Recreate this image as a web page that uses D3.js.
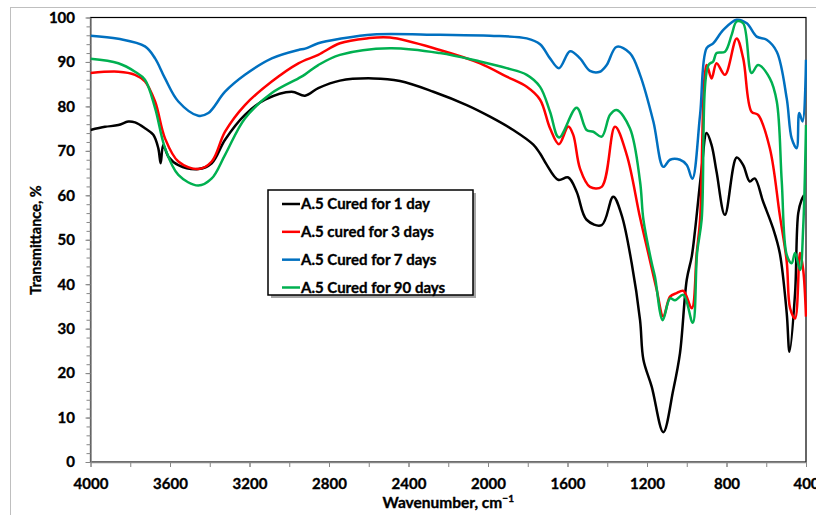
<!DOCTYPE html>
<html>
<head>
<meta charset="utf-8">
<script src="https://cdn.jsdelivr.net/npm/d3@7"></script>
<style>
  body { margin: 0; background: #fff; }
  svg text { font-family: Lato, "Open Sans", sans-serif; font-weight: bold; stroke: #000; stroke-width: 0.35px; }
</style>
</head>
<body>
<div class="container__chart"></div>
<script>
//data: [wavenumber, transmittance]
const day1 = [[4000,74.7],[3927,75.4],[3860,75.8],[3810,76.6],[3776,76.4],[3726,75.1],[3684,73.6],[3659,70.6],[3647,67.2],[3634,71.3],[3608,68.7],[3558,66.8],[3458,65.9],[3390,67.2],[3323,72.5],[3223,78.1],[3122,81.5],[2988,83.3],[2921,82.4],[2854,84.1],[2745,85.8],[2577,86.3],[2443,85.7],[2275,83.3],[2107,80.3],[1990,77.7],[1873,74.7],[1772,71.4],[1738,69.4],[1705,66.9],[1647,63.5],[1596,64.0],[1554,60.8],[1504,54.5],[1428,53.3],[1370,59.7],[1328,55.6],[1277,44.7],[1235,31.9],[1218,23.0],[1176,16.9],[1118,6.7],[1068,16.2],[1034,24.5],[1000,41.0],[975,46.2],[958,52.2],[925,66.0],[900,74.0],[875,71.3],[850,65.3],[808,55.6],[749,68.5],[716,66.8],[683,63.1],[658,63.8],[616,58.6],[566,52.6],[532,47.0],[497,33.5],[483,24.8],[455,38.0],[439,56.0],[422,59.0],[410,60.0]];
const day3 = [[4000,87.5],[3860,87.8],[3776,87.1],[3726,85.6],[3675,81.1],[3625,72.8],[3558,67.6],[3458,65.9],[3390,67.6],[3323,74.3],[3223,80.3],[3088,85.6],[2954,89.7],[2854,91.6],[2745,94.2],[2610,95.3],[2493,95.5],[2242,92.7],[2040,89.7],[1906,86.7],[1805,84.4],[1738,81.5],[1688,75.1],[1643,71.5],[1596,75.5],[1571,73.6],[1537,66.0],[1487,61.9],[1428,61.9],[1361,75.4],[1302,69.1],[1235,55.0],[1185,45.3],[1151,38.7],[1118,32.7],[1084,37.2],[1051,38.0],[1017,38.5],[975,34.6],[950,47.0],[933,54.5],[900,89.3],[875,86.3],[850,89.7],[808,87.1],[749,95.3],[716,90.8],[674,78.8],[641,78.1],[582,70.6],[532,55.6],[497,45.1],[480,34.6],[455,32.3],[430,47.0],[414,43.2],[400,32.7]];
const day7 = [[4000,95.9],[3860,95.2],[3726,93.5],[3675,90.8],[3625,86.3],[3558,81.1],[3458,77.9],[3407,78.5],[3323,83.3],[3223,87.1],[3088,90.8],[2954,92.7],[2920,93.0],[2854,94.2],[2745,95.2],[2577,96.2],[2242,96.1],[1990,95.9],[1805,95.3],[1738,94.0],[1688,90.8],[1643,88.6],[1587,92.4],[1537,90.8],[1487,88.0],[1437,87.8],[1403,89.3],[1353,93.4],[1286,92.0],[1235,87.1],[1168,76.6],[1118,66.4],[1084,68.0],[1034,68.0],[1000,66.8],[972,63.7],[933,78.1],[900,93.1],[867,94.2],[816,97.2],[749,99.5],[698,98.7],[648,95.7],[598,95.0],[547,92.3],[497,81.8],[472,72.8],[447,70.6],[434,78.5],[417,76.6],[400,90.5]];
const day90 = [[4000,90.7],[3860,89.7],[3776,87.8],[3726,86.0],[3675,79.6],[3625,70.6],[3558,64.6],[3458,62.2],[3390,63.8],[3323,69.1],[3223,77.3],[3088,83.0],[2954,86.3],[2920,87.2],[2854,89.3],[2745,91.6],[2493,93.1],[2242,92.0],[2040,90.1],[1906,88.6],[1805,87.1],[1738,84.4],[1688,78.8],[1643,73.0],[1554,79.7],[1504,74.7],[1470,74.3],[1428,73.2],[1386,78.1],[1353,79.2],[1286,75.1],[1235,63.1],[1218,54.5],[1176,44.7],[1160,41.7],[1121,31.9],[1084,36.8],[1059,36.4],[1017,37.6],[970,31.3],[948,47.0],[925,54.5],[891,89.3],[867,90.1],[850,92.0],[808,92.3],[774,96.1],[749,99.1],[716,98.7],[674,87.5],[641,89.3],[582,86.3],[547,81.1],[522,63.1],[497,46.6],[472,44.7],[455,47.0],[430,43.2],[414,52.9],[400,75.8]];

const seriesNames = ["A.5 Cured for 1 day", "A.5 cured for 3 days", "A.5 Cured for 7 days", "A.5 Cured for 90 days"];
const seriesColors = ["#000000", "#ff0000", "#0070c0", "#00b050"];
const xTicks = [4000, 3600, 3200, 2800, 2400, 2000, 1600, 1200, 800, 400];
const yTicks = [0, 10, 20, 30, 40, 50, 60, 70, 80, 90, 100];

const CHART_WIDTH = 816;
const CHART_HEIGHT = 515;
const LEFT = 90.5, RIGHT = 806, TOP = 17.5, BOTTOM = 462;

const xScale = d3.scaleLinear().domain([4000, 400]).range([LEFT, RIGHT]);
const yScale = d3.scaleLinear().domain([0, 100]).range([BOTTOM, TOP]);

const svg = d3.select(".container__chart")
    .append("svg")
    .attr("width", CHART_WIDTH)
    .attr("height", CHART_HEIGHT);

//outer chart border
svg.append("rect")
    .attr("x", 10.5).attr("y", 7.5)
    .attr("width", 1000).attr("height", 1000)
    .attr("fill", "#fff")
    .attr("stroke", "#bfbfbf");

//plot area
svg.append("rect")
    .attr("x", LEFT).attr("y", TOP)
    .attr("width", RIGHT - LEFT).attr("height", BOTTOM - TOP)
    .attr("fill", "#fff")
    .attr("stroke", "#000")
    .attr("stroke-width", 1.2);

svg.append("clipPath").attr("id", "plotClip")
    .append("rect")
    .attr("x", LEFT).attr("y", TOP - 2)
    .attr("width", RIGHT - LEFT + 1).attr("height", BOTTOM - TOP + 2);

//minor ticks
const minorY = d3.range(0, 101, 2);
const minorX = d3.range(4000, 399, -200);

svg.append("g")
    .attr("transform", `translate(${LEFT},0)`)
    .call(d3.axisLeft(yScale).tickValues(minorY).tickSize(4).tickFormat(""))
    .call(g => g.select(".domain").remove())
    .call(g => g.selectAll("line").attr("stroke", "#868686"));

svg.append("g")
    .attr("transform", `translate(0,${BOTTOM})`)
    .call(d3.axisBottom(xScale).tickValues(minorX).tickSize(5).tickFormat(""))
    .call(g => g.select(".domain").remove())
    .call(g => g.selectAll("line").attr("stroke", "#868686"));

//y-axis
svg.append("g")
    .attr("transform", `translate(${LEFT},0)`)
    .call(d3.axisLeft(yScale).tickValues(yTicks).tickSize(5).tickPadding(10.5).tickSizeOuter(0).tickFormat(d3.format("d")))
    .call(g => g.select(".domain").attr("stroke", "#868686").attr("stroke-width", 1.5))
    .call(g => g.selectAll("line").attr("stroke", "#868686"))
    .call(g => g.selectAll("text").attr("fill", "#000").style("font-size", "15px"));

//x-axis
svg.append("g")
    .attr("transform", `translate(0,${BOTTOM})`)
    .call(d3.axisBottom(xScale).tickValues(xTicks).tickSize(5).tickPadding(11.5).tickSizeOuter(0).tickFormat(d3.format("d")))
    .call(g => g.select(".domain").attr("stroke", "#868686").attr("stroke-width", 1.5))
    .call(g => g.selectAll("line").attr("stroke", "#868686"))
    .call(g => g.selectAll("text").attr("fill", "#000").style("font-size", "15px"));

//spectra
const line = d3.line()
    .x(d => xScale(d[0]))
    .y(d => yScale(d[1]))
    .curve(d3.curveCatmullRom.alpha(0.5));

const plot = svg.append("g").attr("clip-path", "url(#plotClip)");
[day1, day3, day7, day90].forEach((data, i) => {
    plot.append("path")
        .datum(data)
        .attr("fill", "none")
        .attr("stroke", seriesColors[i])
        .attr("stroke-width", 2.5)
        .attr("stroke-linejoin", "round")
        .attr("d", line);
});

//axis titles
const xTitle = svg.append("text")
    .attr("x", (LEFT + RIGHT) / 2)
    .attr("y", 508)
    .attr("text-anchor", "middle")
    .style("font-size", "15.5px");
xTitle.append("tspan").text("Wavenumber, cm");
xTitle.append("tspan").attr("dy", -6).style("font-size", "10px").text("\u2212\u0031");

svg.append("text")
    .attr("transform", "translate(41,240) rotate(-90)")
    .attr("text-anchor", "middle")
    .style("font-size", "14.5px")
    .text("Transmittance, %");

//legend
const legend = svg.append("g");
legend.append("rect")
    .attr("x", 271).attr("y", 193)
    .attr("width", 205).attr("height", 105)
    .attr("fill", "#a6a6a6");
legend.append("rect")
    .attr("x", 268).attr("y", 190)
    .attr("width", 205).attr("height", 105)
    .attr("fill", "#fff")
    .attr("stroke", "#000")
    .attr("stroke-width", 1.5);

const rowY = d3.scaleLinear().domain([0, 3]).range([204, 287.5]);
seriesNames.forEach((name, i) => {
    legend.append("line")
        .attr("x1", 282).attr("x2", 300)
        .attr("y1", rowY(i)).attr("y2", rowY(i))
        .attr("stroke", seriesColors[i])
        .attr("stroke-width", 2.5);
    legend.append("text")
        .attr("x", 301)
        .attr("y", rowY(i))
        .attr("dy", "0.35em")
        .style("font-size", "15px")
        .text(name);
});
</script>
</body>
</html>
